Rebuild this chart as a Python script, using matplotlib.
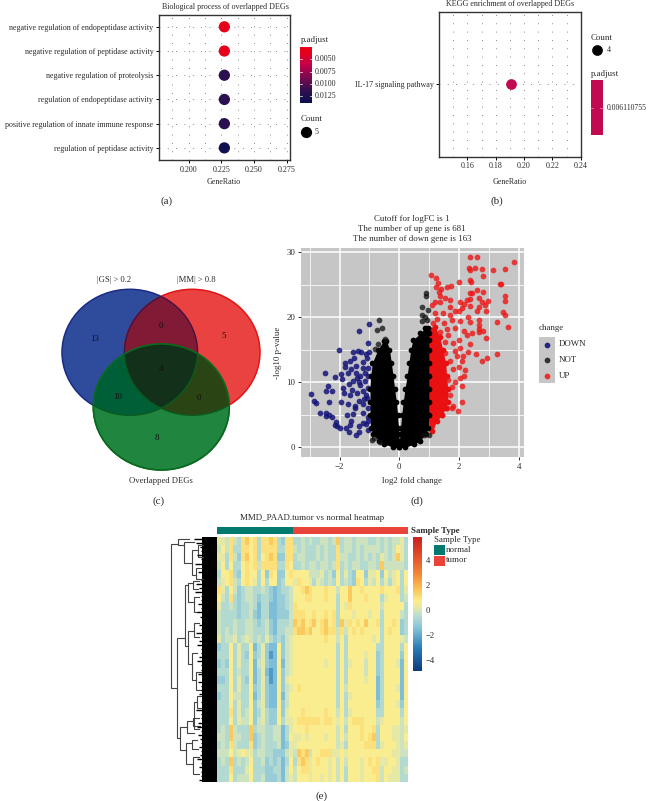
import numpy as np
import matplotlib
matplotlib.use('Agg')
import matplotlib.pyplot as plt
from matplotlib.colors import LinearSegmentedColormap
from matplotlib.patches import Ellipse, Polygon, Rectangle

plt.rcParams['font.family'] = ['Liberation Serif', 'DejaVu Serif']
plt.rcParams['axes.unicode_minus'] = True

W, H = 648, 801
TXT = '#2b2b2b'

# (a) GO dot plot
go_terms = ['negative regulation of endopeptidase activity',
            'negative regulation of peptidase activity',
            'negative regulation of proteolysis',
            'regulation of endopeptidase activity',
            'positive regulation of innate immune response',
            'regulation of peptidase activity']
go_ratio = [0.2273, 0.2273, 0.2273, 0.2273, 0.2273, 0.2273]
go_padj = [0.0034, 0.0034, 0.0118, 0.0118, 0.0118, 0.0135]
go_ticks = [0.200, 0.225, 0.250, 0.275]
go_bar_ticks = [0.0050, 0.0075, 0.0100, 0.0125]

# (b) KEGG dot plot
kegg_terms = ['IL-17 signaling pathway']
kegg_ratio = [0.1905]
kegg_ticks = [0.16, 0.18, 0.20, 0.22, 0.24]

# (c) venn
venn_counts = [13, 0, 5, 4, 10, 0, 8]

# (d) volcano
down_x = [-1.02, -1.35, -1.06, -2.02, -1.55, -1.38, -1.27, -1.02, -1.13, -1.52, -1.65, -1.83, -1.22, -1.09,
          -1.82, -1.61, -1.45, -1.23, -1.04, -2.50, -1.71, -1.95, -2.14, -1.93, -1.45, -1.32, -1.15, -1.04,
          -1.54, -1.68, -1.34, -1.15, -2.39, -1.88, -1.60, -1.43, -2.46, -2.26, -1.85, -1.65, -1.21, -1.04,
          -2.97, -2.85, -2.78, -2.35, -1.95, -1.35, -1.72, -1.49, -1.21, -1.09, -1.04, -1.49, -2.65, -2.47,
          -2.46, -2.35, -2.24, -1.54, -1.74, -1.21, -1.04, -2.12, -2.16, -2.10, -1.63, -1.65, -1.21, -2.00,
          -1.80, -1.69, -1.36, -1.36, -1.45, -1.04, -1.10, -1.12, -1.05, -1.30, -1.40, -1.18]
down_y = [18.9, 17.9, 16.1, 14.9, 14.6, 14.8, 14.7, 14.6, 14.3, 13.7, 13.2, 13.0, 13.1, 13.7,
          12.3, 12.0, 12.5, 12.2, 12.2, 11.5, 11.5, 11.2, 10.8, 10.5, 11.4, 10.9, 11.4, 10.9,
          10.2, 9.8, 10.1, 10.2, 9.5, 9.1, 8.8, 8.3, 8.7, 8.7, 8.3, 8.1, 8.6, 9.1,
          8.2, 7.1, 6.8, 7.0, 7.0, 7.1, 6.6, 6.3, 6.6, 7.6, 6.0, 6.0, 5.3, 5.2,
          4.8, 5.0, 4.7, 5.1, 5.0, 5.2, 4.7, 3.9, 3.5, 3.2, 4.1, 3.4, 3.7, 2.9,
          2.9, 2.4, 3.2, 2.4, 1.9, 2.7, 3.6, 8.0, 4.0, 9.6, 10.6, 7.4]
up_x = [2.37, 2.61, 3.85, 2.32, 2.35, 2.54, 2.76, 3.13, 3.52, 2.79, 1.06, 1.22, 1.29, 2.01, 2.35, 2.39,
        3.41, 3.37, 1.21, 1.40, 1.61, 1.74, 1.34, 2.35, 2.42, 2.61, 2.79, 3.52, 3.53, 1.37, 1.53, 1.70,
        2.37, 2.26, 2.03, 2.65, 2.76, 2.95, 2.87, 1.20, 1.08, 1.36, 1.68, 2.17, 2.35, 2.68, 2.59, 2.90,
        2.09, 1.98, 3.48, 3.52, 1.20, 1.47, 1.70, 1.87, 2.31, 3.28, 3.62, 2.65, 2.37, 2.65, 2.03, 1.75,
        1.48, 1.25, 1.14, 2.65, 2.79, 2.65, 2.42, 2.15, 2.26, 1.87, 1.59, 1.36, 1.64, 2.90, 2.35, 2.01,
        1.81, 1.53, 2.03, 1.87, 2.30, 2.55, 3.26, 2.14, 2.93, 2.77, 2.09, 1.70, 1.92, 1.53, 1.81, 2.01,
        2.18, 2.15, 2.03, 1.87, 1.75, 2.10, 1.64, 1.68, 1.53, 2.10, 1.79, 1.59, 1.97, 1.75, 1.43, 1.31,
        1.23, 1.14, 1.09]
up_y = [29.2, 29.3, 28.5, 27.5, 27.3, 27.5, 27.4, 27.3, 27.4, 26.3, 26.5, 26.1, 25.3, 25.4, 25.7, 25.4,
        25.1, 25.1, 24.6, 24.4, 24.6, 24.8, 23.9, 23.8, 23.8, 24.2, 23.9, 23.2, 22.5, 23.3, 22.9, 22.7,
        22.8, 22.7, 22.3, 22.9, 22.4, 22.5, 21.9, 22.4, 21.9, 22.4, 21.6, 22.1, 21.7, 21.5, 21.0, 20.9,
        21.4, 20.9, 20.8, 20.3, 20.6, 20.6, 20.4, 20.9, 20.1, 19.2, 18.5, 19.6, 19.2, 18.8, 19.4, 19.6,
        19.1, 19.7, 19.1, 18.2, 17.9, 17.7, 17.5, 17.9, 17.2, 18.3, 18.2, 17.8, 17.3, 16.8, 15.9, 16.5,
        16.0, 16.2, 15.2, 14.8, 14.7, 14.3, 14.3, 14.0, 13.7, 13.2, 13.3, 13.2, 14.0, 14.5, 12.1, 12.3,
        11.9, 11.0, 10.6, 10.0, 9.3, 9.4, 10.4, 8.1, 7.3, 6.9, 6.4, 6.0, 5.6, 6.0, 4.9, 5.2,
        4.7, 3.9, 3.2]
not_x = [-0.67, -0.59, -0.75, -0.70, -0.82, -0.93, -0.85, -0.65, -0.48, 0.88, 0.88, 0.77, 0.97, 0.75, 0.86, 0.92, 0.75, 1.0, 0.82]
not_y = [19.5, 18.4, 18.0, 15.9, 15.1, 1.1, 1.5, 0.8, 16.6, 23.8, 23.2, 21.5, 21.1, 20.4, 20.1, 19.6, 19.4, 1.9, 1.9]
# the solid V of non significant genes, edges read level by level
left_arm_y = [0, 0.5, 1, 2, 3, 5, 7, 9, 11, 13, 15, 16.4]
left_arm_outer = [-0.2, -0.5, -0.68, -0.88, -0.96, -0.98, -0.98, -0.98, -0.96, -0.9, -0.72, -0.52]
left_arm_inner = [0, -0.01, -0.01, -0.02, -0.03, -0.06, -0.1, -0.16, -0.21, -0.27, -0.33, -0.43]
right_arm_y = [0, 0.5, 1, 2, 3, 5, 7, 9, 11, 13, 15, 16.5, 17.5, 18.3]
right_arm_inner = [0, 0.01, 0.01, 0.02, 0.04, 0.08, 0.13, 0.19, 0.26, 0.32, 0.38, 0.45, 0.7, 0.85]
right_arm_outer = [0.2, 0.5, 0.68, 0.88, 0.97, 0.99, 0.99, 0.99, 0.99, 0.99, 0.99, 0.99, 0.98, 0.97]
# the dense red band just past the cutoff
up_band_y = [2.5, 4, 5, 6, 7, 9, 11, 13, 15, 17, 18.5]
up_band_edge = [1.08, 1.25, 1.42, 1.55, 1.62, 1.62, 1.58, 1.55, 1.45, 1.35, 1.2]
change_names = ['DOWN', 'NOT', 'UP']

# (e) heatmap, digits are colour levels, rows top to bottom
heat_levels = [-2.4, -1.6, -1.1, -0.6, -0.2, 0.2, 0.6, 1.0, 1.5, 2.4]
heat_normal = ['5547437867377873277', '4647337767377773377', '5537427867367872277', '4636336767477773376',
               '3667326766362762267', '4567436765363662366', '7536423443343212334', '6437323443233212234',
               '5334323343133112234', '4333323342133112224', '4333433443234213334', '4343433443334213344',
               '5344534543435323245', '2336353361352116245', '3336353262352016245', '2326353361452116145',
               '3336343361351016245', '2236353261352016256', '3336353362352116245', '2336443361352116146',
               '3336353362452116246', '3337353462353226256', '3336354462453226355', '3438433383443344135',
               '4438443382343344136', '3437433372343334125', '4446456553443322245', '3438343463342323136',
               '3337333563332233146', '3336344463342223145']
heat_tumor = ['33434334434834434443343434453', '43433343433734434344443434653', '34433343433744334343435434853',
              '33434434434734344334438444443', '66664445342635326625562645636', '57665354343634327635463535636',
              '66787666766466866766667666735', '66677666766366866676663566634', '76666666666365766666664666663',
              '77766766767366656665663666643', '87867867867385767686673667623', '78878667877474676766663676623',
              '66666666766463666666563666654', '66666666666363666666633666636', '66666666666363666656623666626',
              '66666666566363566646623666516', '66666666666363666646623666616', '66666666666363666656613666616',
              '67666666666364666666613666516', '66666666666363566666613666616', '66666666666363666666623666526',
              '66766666766463566666633666636', '67777776776564677766645666646', '66676666666463666766736665545',
              '55656666566464666767836665546', '56666666666453666677735666545', '48784667775565666666666665544',
              '37875676656464666567675566533', '46775666656463666566774665534', '46665665656463666566674655533']
heat_ticks = [4, 2, 0, -2, -4]
# dendrogram merges: height, top row, top child height, bottom row, bottom child height
tree_merges = [(10.0, 0.8, 8.4, 18.5, 8.7), (8.4, 0.3, 6.0, 1.0, 7.1), (7.1, 0.6, 5.0, 3.2, 5.5),
               (5.5, 1.6, 4.2, 4.7, 4.5), (4.5, 3.8, 3.2, 5.2, 3.0), (4.2, 1.0, 3.0, 2.4, 3.0),
               (8.7, 12.4, 6.9, 24.6, 8.0), (6.9, 5.9, 6.2, 13.4, 6.2), (6.2, 5.6, 5.2, 8.0, 5.0),
               (5.2, 5.4, 4.0, 6.4, 4.2), (5.0, 7.3, 4.0, 9.2, 4.0), (6.2, 11.5, 5.0, 15.6, 5.4),
               (5.0, 10.6, 4.0, 12.2, 4.0), (5.4, 14.2, 4.4, 17.5, 4.5), (4.5, 16.5, 3.4, 18.8, 3.6),
               (8.0, 23.3, 6.4, 26.1, 6.8), (6.4, 22.6, 5.2, 24.0, 5.0), (6.8, 25.2, 5.5, 27.8, 5.2),
               (5.2, 22.2, 4.0, 23.2, 3.8), (5.5, 24.9, 4.4, 26.0, 4.2), (5.2, 27.0, 4.0, 29.0, 4.0),
               (4.4, 19.5, 3.5, 21.0, 3.4), (5.0, 20.2, 4.4, 23.6, 4.0)]
# left edge of the black leaf comb, one value per half row
comb_edge = [5.0, 4.6, 3.8, 3.4, 4.4, 3.6, 4.8, 3.2, 4.2, 3.2, 3.6, 4.6, 4.0, 4.8, 3.6, 3.4, 4.2, 3.4, 4.4, 3.8,
             3.2, 4.0, 3.4, 4.6, 3.6, 4.0, 4.4, 3.6, 3.4, 4.0, 4.4, 3.4, 3.6, 4.2, 3.2, 4.2, 3.4, 3.6, 4.0, 3.2,
             3.6, 3.2, 4.6, 3.6, 3.4, 4.2, 4.4, 3.6, 4.2, 3.8, 3.4, 4.0, 3.4, 3.8, 4.4, 3.6, 4.0, 3.4, 3.6, 4.0]

fig = plt.figure(figsize=(W / 100, H / 100), dpi=100, facecolor='white')

# overlay in image pixels, for loose text and the venn
page = fig.add_axes([0, 0, 1, 1], zorder=5)
page.set_xlim(0, W)
page.set_ylim(H, 0)
page.axis('off')
page.patch.set_alpha(0)


def box(x0, y0, x1, y1):
    return fig.add_axes([x0 / W, 1 - y1 / H, (x1 - x0) / W, (y1 - y0) / H])


def put(x, y, s, size=5.8, ha='center', **kw):
    kw.setdefault('color', TXT)
    page.text(x, y, s, fontsize=size, ha=ha, va='center', **kw)


adj_cmap = LinearSegmentedColormap.from_list('adj', ['#e8001a', '#c5004a', '#7d0a50', '#32104f', '#0a1050'])
ADJ_LOW, ADJ_HIGH = 0.0034, 0.0139


def dot_axes(ax, xlim, ticks, minors, names):
    ax.set_xlim(*xlim)
    ax.set_ylim(-0.5, len(names) - 0.5)
    ax.invert_yaxis()
    ax.set_xticks(ticks)
    ax.set_xticks(minors, minor=True)
    ax.set_yticks(range(len(names)))
    ax.set_yticklabels(names)
    ax.tick_params(axis='both', which='major', labelsize=5.8, length=2, width=0.7, pad=2, labelcolor=TXT)
    ax.tick_params(axis='x', which='minor', length=0)
    ax.grid(True, which='both', axis='x', color='#666666', lw=0.6, ls=(0, (1, 9)))
    ax.grid(True, axis='y', color='#666666', lw=0.6, ls=(0, (1, 9)))
    ax.set_axisbelow(True)
    for sp in ax.spines.values():
        sp.set_linewidth(1.0)
        sp.set_color('#333333')


# (a)
ax_a = box(159, 14.7, 290, 160)
dot_axes(ax_a, (0.1773, 0.2775), go_ticks, [0.1875, 0.2125, 0.2375, 0.2625], go_terms)
ax_a.set_xticklabels(['%.3f' % t for t in go_ticks])
ax_a.scatter(go_ratio, range(len(go_terms)), c=go_padj, cmap=adj_cmap, vmin=ADJ_LOW, vmax=ADJ_HIGH, s=50, zorder=3)
put(225, 7, 'Biological process of overlapped DEGs')
put(224, 181.7, 'GeneRatio')
put(300.5, 40, 'p.adjust', size=6.4, ha='left')
cb_a = box(300, 47, 312, 102.7)
cb_a.imshow(np.linspace(0.00248, 0.01387, 100)[:, None], cmap=adj_cmap, vmin=ADJ_LOW, vmax=ADJ_HIGH,
            aspect='auto', extent=[0, 1, 0.01387, 0.00248])
cb_a.set_yticks(go_bar_ticks)
cb_a.set_xticks([])
cb_a.tick_params(axis='y', length=0, labelleft=False)
for sp in cb_a.spines.values():
    sp.set_visible(False)
for t in go_bar_ticks:
    cb_a.plot([0, 0.2], [t, t], color='white', lw=0.5)
    cb_a.plot([0.8, 1], [t, t], color='white', lw=0.5)
    put(315, 59.3 + (t - 0.005) / 0.0025 * 12.2, '%.4f' % t, ha='left')
put(300.5, 119, 'Count', size=6.4, ha='left')
page.scatter([306], [132], s=50, color='black')
put(315, 132, '5', ha='left')
put(166.7, 201, '(a)', size=8)

# (b)
ax_b = box(439, 11.7, 580.7, 156.7)
dot_axes(ax_b, (0.14, 0.24), kegg_ticks, [0.15, 0.17, 0.19, 0.21, 0.23], kegg_terms)
ax_b.set_xticklabels(['%.2f' % t for t in kegg_ticks])
ax_b.scatter(kegg_ratio, [0], color='#c20a50', s=45, zorder=3)
put(510, 3.5, 'KEGG enrichment of overlapped DEGs')
put(510, 181.7, 'GeneRatio')
put(591, 37.7, 'Count', size=6.4, ha='left')
page.scatter([597], [50], s=45, color='black')
put(606.7, 50, '4', ha='left')
put(591, 73.7, 'p.adjust', size=6.4, ha='left')
page.add_patch(Rectangle((591, 80.3), 11.7, 54.7, color='#c20a50', lw=0))
page.plot([591, 593.3], [107.7, 107.7], color='#e8a0b8', lw=0.5)
page.plot([600.4, 602.7], [107.7, 107.7], color='#e8a0b8', lw=0.5)
put(606.7, 107.7, '0.006110755', size=5.6, ha='left')
put(497, 201, '(b)', size=8)

# (c) venn
blue_c = (129.8, 352.3, 67.8, 63)
red_c = (192.2, 352.3, 67.8, 63)
green_c = (161.3, 407, 68, 63)


def ring(e, zorder, face, edge):
    p = Ellipse((e[0], e[1]), e[2] * 2, e[3] * 2, facecolor=face, edgecolor=edge, lw=1.1, zorder=zorder)
    page.add_patch(p)
    return p


def overlap(ells, face, zorder):
    # ellipses are convex, so walk round the mean centre and keep the nearest edge
    cx = np.mean([e[0] for e in ells])
    cy = np.mean([e[1] for e in ells])
    ang = np.linspace(0, 2 * np.pi, 360, endpoint=False)
    rad = []
    for e in ells:
        dx, dy = np.cos(ang) / e[2], np.sin(ang) / e[3]
        ox, oy = (cx - e[0]) / e[2], (cy - e[1]) / e[3]
        a = dx ** 2 + dy ** 2
        b = 2 * (dx * ox + dy * oy)
        c = ox ** 2 + oy ** 2 - 1
        rad.append((-b + np.sqrt(b ** 2 - 4 * a * c)) / (2 * a))
    rad = np.min(rad, axis=0)
    pts = np.column_stack([cx + rad * np.cos(ang), cy + rad * np.sin(ang)])
    page.add_patch(Polygon(pts, closed=True, facecolor=face, edgecolor='none', zorder=zorder))


blue_p = ring(blue_c, 1, '#2f4c9c', '#1a2b85')
red_p = ring(red_c, 1, '#ea4141', '#e01515')
overlap([blue_c, red_c], '#801a35', 2)
# outlines change colour where they cross the other circle
for e, other, col in ((red_c, blue_p, '#3d1545'), (blue_c, red_p, '#4a1040')):
    arc = Ellipse((e[0], e[1]), e[2] * 2, e[3] * 2, fill=False, edgecolor=col, lw=1.0, zorder=2.5)
    page.add_patch(arc)
    arc.set_clip_path(other)
green_p = ring(green_c, 3, '#20853e', '#0b6a20')
overlap([blue_c, green_c], '#005f36', 4)
overlap([red_c, green_c], '#2b4413', 4)
overlap([blue_c, red_c, green_c], '#13301a', 5)
page.add_patch(Ellipse((green_c[0], green_c[1]), green_c[2] * 2, green_c[3] * 2, fill=False, edgecolor='#0b6a20', lw=1.1, zorder=6))
for e in (blue_c, red_c):
    arc = Ellipse((e[0], e[1]), e[2] * 2, e[3] * 2, fill=False, edgecolor='#0b5a20', lw=1.0, zorder=6)
    page.add_patch(arc)
    arc.set_clip_path(green_p)
venn_spots = [(94.3, 339), (161.3, 326), (223.7, 336), (161.3, 369), (117.3, 397), (199.3, 398), (157, 437.7)]
for (vx, vy), n in zip(venn_spots, venn_counts):
    page.text(vx, vy, str(n), fontsize=6.4, ha='center', va='center', color='#111111', zorder=7)
put(114, 280, '|GS| > 0.2', size=6.2)
put(196.7, 280, '|MM| > 0.8', size=6.2)
put(161, 480.7, 'Overlapped DEGs', size=6.2)
put(159, 500.7, '(c)', size=8)

# (d) volcano
ax_d = box(301, 248.3, 524.3, 457.3)
ax_d.set_facecolor('#c6c6c6')
ax_d.set_xlim(-3.29, 4.18)
ax_d.set_ylim(-1.54, 30.6)
ax_d.set_xticks([-2, 0, 2, 4])
ax_d.set_yticks([0, 10, 20, 30])
ax_d.set_xticks([-3, -1, 1, 3], minor=True)
ax_d.set_yticks([5, 15, 25], minor=True)
ax_d.grid(True, which='major', color='white', lw=1.1)
ax_d.grid(True, which='minor', color='white', lw=0.55)
ax_d.set_axisbelow(True)
ax_d.tick_params(axis='both', which='major', labelsize=6.4, length=2, width=0.7, color='#333333', pad=2, labelcolor=TXT)
ax_d.tick_params(axis='both', which='minor', length=0)
for sp in ax_d.spines.values():
    sp.set_visible(False)
DOT = 17
ax_d.scatter(down_x, down_y, s=DOT, color='#15157a', alpha=0.85, lw=0)
ax_d.fill_betweenx(up_band_y, 0.98, up_band_edge, color='#e81010', lw=0)
ax_d.scatter(up_x, up_y, s=DOT, color='#ee1515', alpha=0.8, lw=0)
ax_d.scatter(up_band_edge, up_band_y, s=DOT, color='#e81010', lw=0)
for arm_y, outer, inner in ((left_arm_y, left_arm_outer, left_arm_inner),
                            (right_arm_y, right_arm_outer, right_arm_inner)):
    ax_d.fill_betweenx(arm_y, outer, inner, color='black', lw=0, zorder=3)
    ax_d.scatter(outer, arm_y, s=DOT, color='black', lw=0, zorder=3)
    ax_d.scatter(inner, arm_y, s=DOT, color='black', lw=0, zorder=3)
ax_d.scatter(not_x, not_y, s=DOT, color='#111111', alpha=0.75, lw=0, zorder=3)
put(412, 219, 'Cutoff for logFC is 1', size=6.4)
put(412, 229, 'The number of up gene is 681', size=6.4)
put(412, 239, 'The number of down gene is 163', size=6.4)
put(411.7, 481, 'log2 fold change', size=6.4)
put(278, 353, '-log10 p-value', size=6.4, rotation=90)
put(538.5, 327.5, 'change', size=6.4, ha='left')
page.add_patch(Rectangle((539, 337), 16, 46, color='#c6c6c6', lw=0))
legend_colors = ['#15157a', '#222222', '#ee2020']
for i, name in enumerate(change_names):
    yy = 344.5 + i * 15.7
    page.scatter([547], [yy], s=DOT, color=legend_colors[i], alpha=0.9, lw=0)
    put(558.7, yy, name, size=6.4, ha='left')
put(417, 501, '(d)', size=8)

# (e) heatmap
heat_cmap = LinearSegmentedColormap.from_list('heat', [(0.00, '#0c3c7e'), (0.17, '#2a7db7'), (0.32, '#86c4dc'),
                                                       (0.42, '#bfe0cf'), (0.47, '#e4e8a8'), (0.52, '#fdee8c'),
                                                       (0.62, '#fbbf52'), (0.72, '#f58a3a'), (0.85, '#e4532c'),
                                                       (1.00, '#cb2020')])
HEAT_LOW, HEAT_HIGH = -4.9, 5.83
heat = np.array([[heat_levels[int(ch)] for ch in a + b] for a, b in zip(heat_normal, heat_tumor)])
ax_e = box(217.3, 537, 408.3, 781.7)
ax_e.imshow(heat, cmap=heat_cmap, vmin=HEAT_LOW, vmax=HEAT_HIGH, aspect='auto', interpolation='nearest')
ax_e.axis('off')

ax_ann = box(217.3, 526.7, 408.3, 534.3)
ax_ann.imshow([[0] * len(heat_normal[0]) + [1] * len(heat_tumor[0])],
              cmap=LinearSegmentedColormap.from_list('ann', ['#00796f', '#e8443a']), aspect='auto', interpolation='nearest')
ax_ann.axis('off')

ax_tree = box(170, 537, 217.3, 781.7)
ax_tree.set_xlim(10.15, 0)
ax_tree.set_ylim(30, 0)
ax_tree.axis('off')
for h, r0, h0, r1, h1 in tree_merges:
    ax_tree.plot([h0, h, h, h1], [r0, r0, r1, r1], color='#444444', lw=0.8, solid_joinstyle='miter')
comb_rows = (np.arange(len(comb_edge)) + 0.5) / 2
ax_tree.fill_between([0, min(comb_edge)], 0, 30, color='black', lw=0)
ax_tree.hlines(comb_rows, 0, comb_edge, color='black', lw=1.0)

cb_e = box(413, 537, 421.7, 671)
cb_e.imshow(np.linspace(HEAT_HIGH, HEAT_LOW, 200)[:, None], cmap=heat_cmap, vmin=HEAT_LOW, vmax=HEAT_HIGH,
            aspect='auto', extent=[0, 1, HEAT_LOW, HEAT_HIGH])
cb_e.set_xticks([])
cb_e.set_yticks(heat_ticks)
cb_e.yaxis.tick_right()
cb_e.tick_params(axis='y', length=0, labelsize=6.2, pad=3, labelcolor=TXT)
for sp in cb_e.spines.values():
    sp.set_visible(False)

put(311.7, 518, 'MMD_PAAD.tumor vs normal heatmap', size=6.4)
put(411, 531, 'Sample Type', size=6.4, ha='left', fontweight='bold')
put(434, 540.5, 'Sample Type', size=6.4, ha='left')
page.add_patch(Rectangle((434, 545), 11, 10, color='#00796f', lw=0))
page.add_patch(Rectangle((434, 555.5), 11, 10, color='#e8443a', lw=0))
put(446, 550, 'normal', size=6.4, ha='left')
put(446, 560.5, 'tumor', size=6.4, ha='left')
put(321.7, 796, '(e)', size=8)

fig.savefig('out.png', dpi=100)
